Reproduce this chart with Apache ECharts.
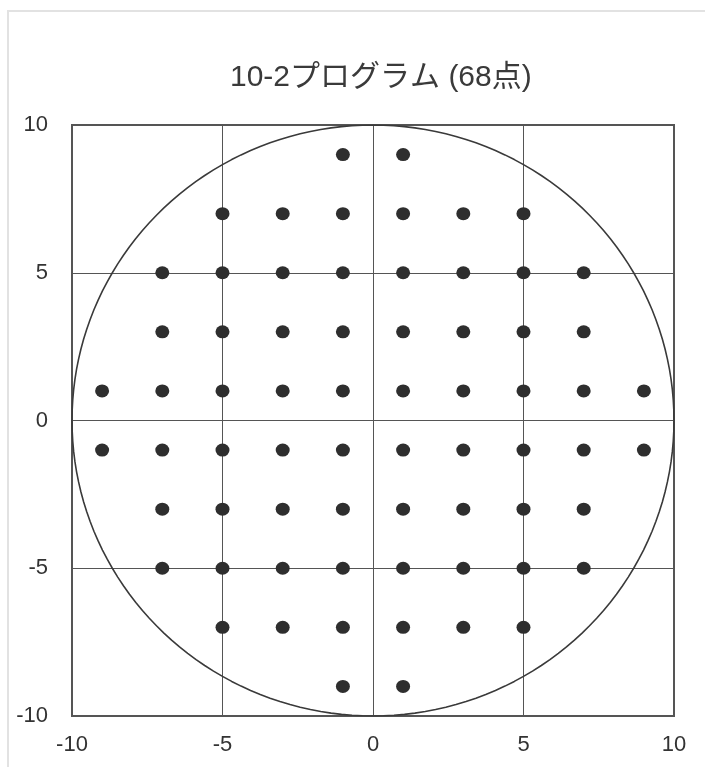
<!DOCTYPE html>
<html>
<head>
<meta charset="utf-8">
<script src="https://cdn.jsdelivr.net/npm/echarts@6/dist/echarts.min.js"></script>
<style>
  html, body { margin: 0; padding: 0; background: #fff; }
  #main { width: 705px; height: 767px; }
</style>
</head>
<body>
<div id="main"></div>
<script>
// 10-2 test points: one row per y, x positions listed per row
var rowY = [9, 7, 5, 3, 1, -1, -3, -5, -7, -9]
var rowX = [
  [-1, 1],
  [-5, -3, -1, 1, 3, 5],
  [-7, -5, -3, -1, 1, 3, 5, 7],
  [-7, -5, -3, -1, 1, 3, 5, 7],
  [-9, -7, -5, -3, -1, 1, 3, 5, 7, 9],
  [-9, -7, -5, -3, -1, 1, 3, 5, 7, 9],
  [-7, -5, -3, -1, 1, 3, 5, 7],
  [-7, -5, -3, -1, 1, 3, 5, 7],
  [-5, -3, -1, 1, 3, 5],
  [-1, 1]
]
var radius = 10
var ticks = [-10, -5, 0, 5, 10]
var title = '10-2プログラム (68点)'

var points = []
rowY.forEach(function (y, i) {
  rowX[i].forEach(function (x) { points.push([x, y]) })
})

// outline of the 10 degree field
var circle = []
for (var a = 0; a <= 360; a += 2) {
  var r = a * Math.PI / 180
  circle.push([radius * Math.cos(r), radius * Math.sin(r)])
}

var font = '"Liberation Sans", Arial, "Noto Sans CJK JP", sans-serif'
var axisCommon = {
  type: 'value',
  min: ticks[0],
  max: ticks[ticks.length - 1],
  interval: 5,
  axisLine: { show: false },
  axisTick: { show: false },
  splitLine: { show: true, lineStyle: { color: '#555', width: 1 } },
  axisLabel: { color: '#333', fontSize: 22, fontFamily: font }
}

var myChart = echarts.init(document.getElementById('main'))
myChart.setOption({
  animation: false,
  title: {
    text: title,
    left: 225,
    top: 58,
    textStyle: { color: '#3a3a3a', fontSize: 30, fontWeight: 'normal', fontFamily: font }
  },
  grid: {
    left: 72, right: 31, top: 125, bottom: 51,
    show: true, borderColor: '#555', borderWidth: 2
  },
  xAxis: Object.assign({}, axisCommon, {
    axisLabel: Object.assign({}, axisCommon.axisLabel, { margin: 18 })
  }),
  yAxis: Object.assign({}, axisCommon, {
    axisLabel: Object.assign({}, axisCommon.axisLabel, { margin: 24 })
  }),
  graphic: [{
    type: 'rect',
    shape: { x: 8, y: 11, width: 760, height: 800 },
    style: { fill: 'none', stroke: '#e2e2e2', lineWidth: 2 },
    silent: true
  }],
  series: [
    {
      type: 'line',
      data: circle,
      showSymbol: false,
      lineStyle: { color: '#3a3a3a', width: 1.6 },
      silent: true
    },
    {
      type: 'scatter',
      data: points,
      symbol: 'circle',
      symbolSize: [14, 13],
      itemStyle: { color: '#2e2e2e', opacity: 1 }
    }
  ]
})
</script>
</body>
</html>
